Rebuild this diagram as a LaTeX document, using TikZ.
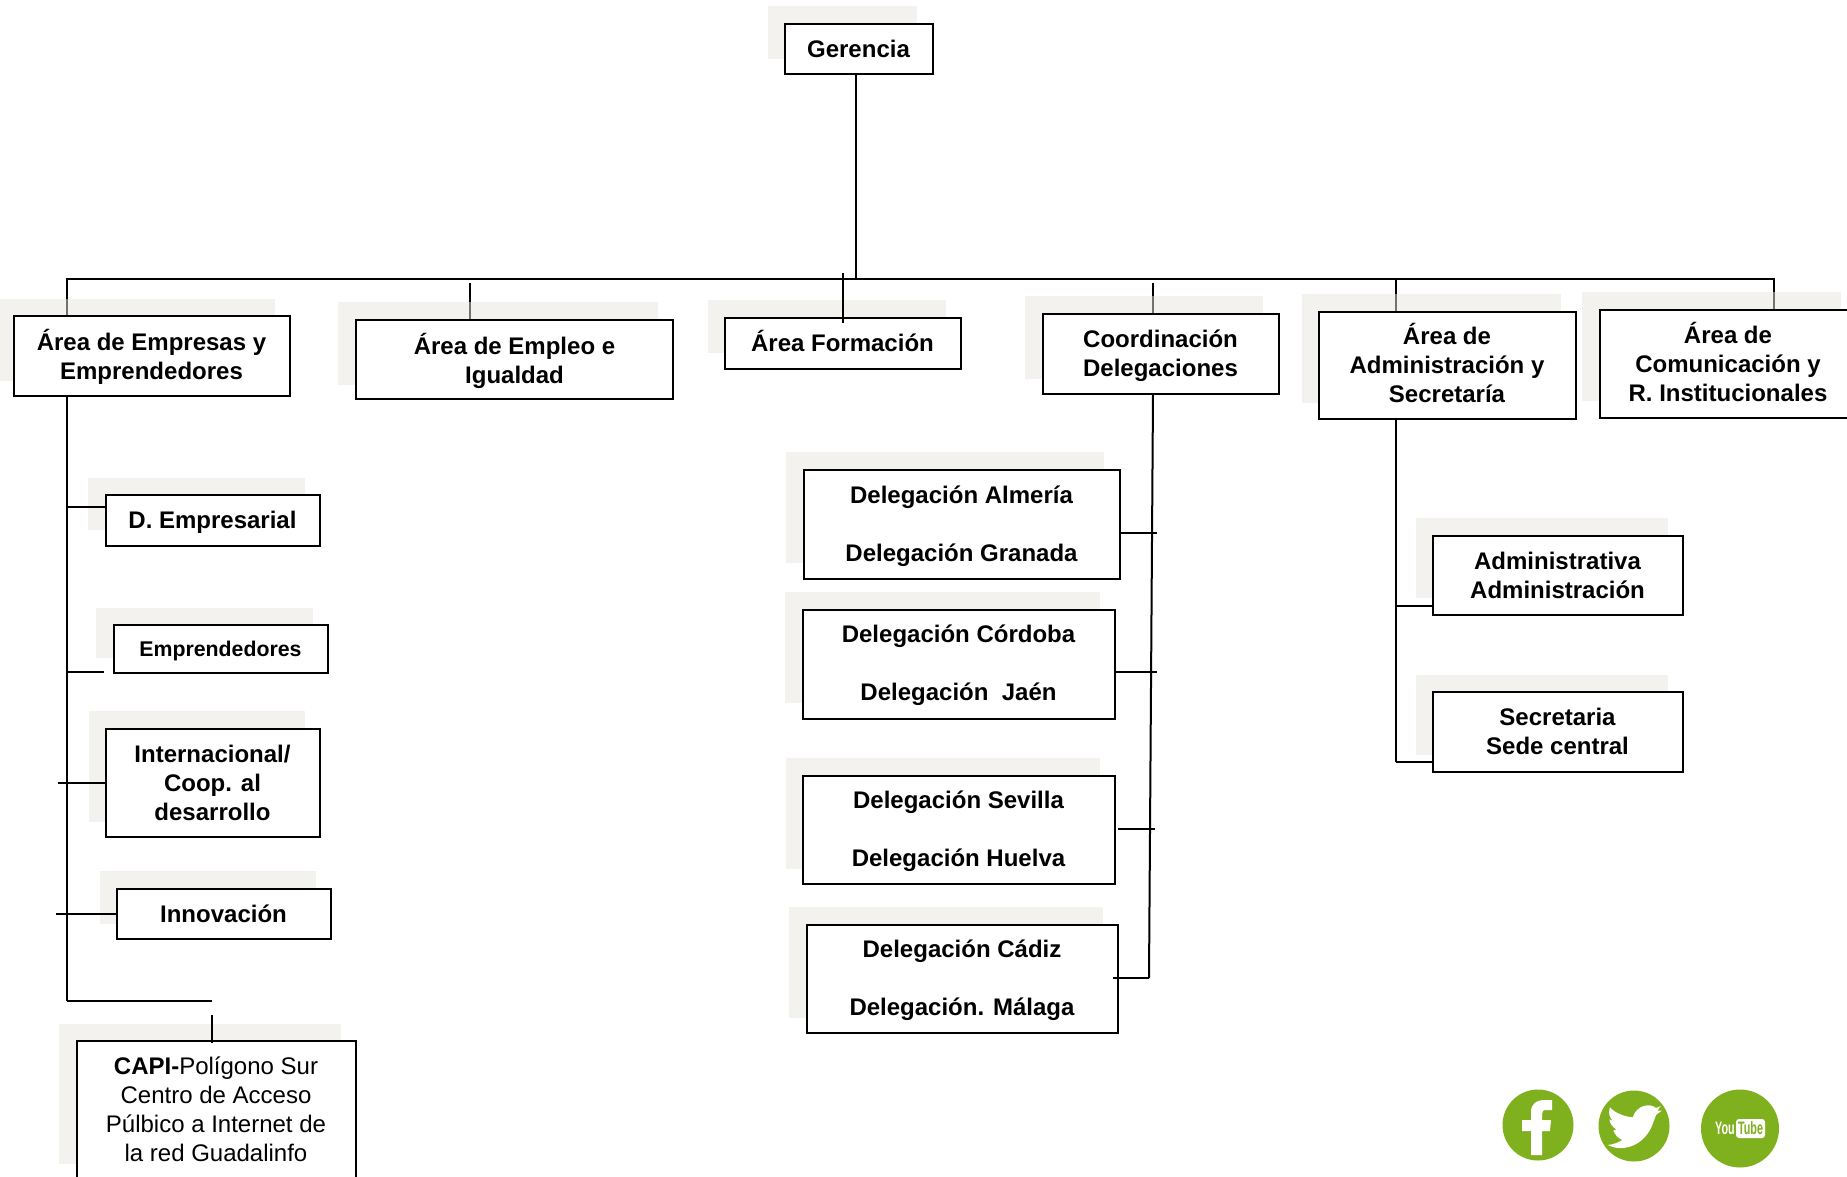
\documentclass[tikz,border=0pt]{standalone}
\usepackage{fontspec}
\setmainfont{Liberation Sans}
\definecolor{shadefill}{HTML}{E7E5DD}
\definecolor{socialgreen}{HTML}{7FB11E}
\pgfdeclarelayer{drops}
\pgfdeclarelayer{shades}
\pgfsetlayers{drops,shades,main}
\newcommand{\nudge}[2]{\raisebox{#1}[\height][\depth]{\begin{tabular}{@{}c@{}}#2\end{tabular}}}
\tikzset{
  orgbox/.style={draw=black, fill=white, line width=2pt, inner sep=0pt, outer sep=0pt, align=center, text=black,
    font=\fontsize{24}{29}\selectfont\bfseries},
  backshade/.style={fill=shadefill, fill opacity=.5},
  link/.style={line width=2pt, black},
  busline/.style={line width=2.4pt, black},
  socialicon/.style={circle, fill=socialgreen, inner sep=0pt, outer sep=0pt}
}
\begin{document}
\begin{tikzpicture}[x=1pt,y=-1pt]
    \useasboundingbox (0,0) rectangle (1847,1176);
    \clip (0,0) rectangle (1847,1176);

    % Sombras
    \begin{pgfonlayer}{shades}
    \fill[backshade] (768,6) rectangle (917,59);
    \fill[backshade] (0,299) rectangle (275,381);
    \fill[backshade] (338,302) rectangle (658,385);
    \fill[backshade] (708,300) rectangle (946,353);
    \fill[backshade] (1025,296) rectangle (1263,379);
    \fill[backshade] (1302,294) rectangle (1561,403);
    \fill[backshade] (1582,292) rectangle (1841,401);
    \fill[backshade] (88,478) rectangle (305,530);
    \fill[backshade] (96,608) rectangle (313,658);
    \fill[backshade] (89,711) rectangle (305,822);
    \fill[backshade] (100,871) rectangle (316,924);
    \fill[backshade] (59,1024) rectangle (341,1164);
    \fill[backshade] (786,452) rectangle (1104,563);
    \fill[backshade] (785,592) rectangle (1100,703);
    \fill[backshade] (786,758) rectangle (1100,869);
    \fill[backshade] (789,907) rectangle (1103,1018);
    \fill[backshade] (1416,518) rectangle (1668,598);
    \fill[backshade] (1416,675) rectangle (1668,755);
    \end{pgfonlayer}

    % Cajas
    \node (gerencia) at (858.5,48.5) [orgbox, minimum width=148pt, minimum height=50pt] {Gerencia};
    \node (empresas) at (151.5,355.5) [orgbox, minimum width=276pt, minimum height=80pt] {\nudge{-3.4pt}{Área de Empresas y\\Emprendedores}};
    \node (empleo) at (514.5,359) [orgbox, minimum width=317pt, minimum height=79pt] {\nudge{-3.4pt}{Área de Empleo e\\Igualdad}};
    \node (formacion) at (842.5,343) [orgbox, minimum width=236pt, minimum height=51pt] {\nudge{-2.3pt}{Área Formación}};
    \node (coordinacion) at (1160.5,353.5) [orgbox, minimum width=236pt, minimum height=80pt] {\nudge{-3pt}{Coordinación\\Delegaciones}};
    \node (administracion) at (1447,365) [orgbox, minimum width=257pt, minimum height=107pt] {\nudge{-2pt}{Área de\\Administración y\\Secretaría}};
    \node (comunicacion) at (1728,363.5) [orgbox, minimum width=257pt, minimum height=108pt] {\nudge{-2.7pt}{Área de\\Comunicación y\\R. Institucionales}};

    \node (dempresarial) at (212.5,520) [orgbox, minimum width=214pt, minimum height=51pt] {\nudge{-3pt}{D. Empresarial}};
    \node (emprendedores) at (220.5,648.5) [orgbox, minimum width=214pt, minimum height=48pt, font=\fontsize{21.3}{26}\selectfont\bfseries] {\nudge{-3pt}{Emprendedores}};
    \node (internacional) at (212.5,782.5) [orgbox, minimum width=214pt, minimum height=108pt] {Internacional/\\Coop. al\\desarrollo};
    \node (innovacion) at (223.5,913.5) [orgbox, minimum width=214pt, minimum height=50pt] {Innovación};
    \node (capi) at (216,1109.5) [orgbox, minimum width=279pt, minimum height=137pt, font=\fontsize{24}{29}\selectfont] {\textbf{CAPI-}Polígono Sur\\Centro de Acceso\\Púlbico a Internet de\\la red Guadalinfo};

    \node (almeria) at (961.5,524) [orgbox, minimum width=316pt, minimum height=109pt] {\nudge{-2.5pt}{Delegación Almería\\[29pt]Delegación Granada}};
    \node (cordoba) at (958.5,664) [orgbox, minimum width=312pt, minimum height=109pt] {\nudge{-2pt}{Delegación Córdoba\\[29pt]Delegación\ \ Jaén}};
    \node (sevilla) at (958.5,829.5) [orgbox, minimum width=312pt, minimum height=108pt] {\nudge{-2.5pt}{Delegación Sevilla\\[29pt]Delegación Huelva}};
    \node (cadiz) at (962,978.5) [orgbox, minimum width=311pt, minimum height=108pt] {\nudge{-2pt}{Delegación Cádiz\\[29pt]Delegación. Málaga}};

    \node (administrativa) at (1557.5,575) [orgbox, minimum width=250pt, minimum height=79pt] {Administrativa\\Administración};
    \node (secretaria) at (1557.5,731.5) [orgbox, minimum width=250pt, minimum height=80pt] {Secretaria\\Sede central};

    % Puntos libres
    \coordinate (busleft) at (67,279);
    \coordinate (busright) at (1774,279);
    \coordinate (busgerencia) at (856,279);
    \coordinate (topempleo) at (470,283);
    \coordinate (topformacion) at (843,273);
    \coordinate (endformacion) at (843,323);
    \coordinate (topcoordinacion) at (1153,283);
    \coordinate (busadmin) at (1396,279);
    \coordinate (spineleft) at (67,1001);
    \coordinate (spineadmin) at (1396,762);
    \coordinate (spinecoord) at (1149,978);
    \coordinate (topcoordspine) at (1153,394);
    \coordinate (capiline) at (212,1001);
    \coordinate (capistub) at (212,1015);
    \coordinate (capiend) at (212,1043);
    \coordinate (tickdemp) at (105,507);
    \coordinate (tickempren) at (104,672);
    \coordinate (tickinterA) at (58,783);
    \coordinate (tickinnovA) at (56,914);
    \coordinate (tickalmeria) at (1157,533);
    \coordinate (tickcordoba) at (1157,672);
    \coordinate (ticksevA) at (1118,829);
    \coordinate (ticksevB) at (1155,829);
    \coordinate (tickcadiz) at (1113,978);
    \coordinate (tickadmin) at (1432,606);

    % Barra superior
    \draw[link] (busgerencia |- gerencia.south) -- (busgerencia);
    \begin{pgfonlayer}{drops}
    \draw[busline, line cap=rect] (busleft) -- (busright);
    \draw[link] (busleft) -- (busleft |- empresas.north);
    \draw[link] (topempleo) -- (topempleo |- empleo.north);
    \draw[link] (topcoordinacion) -- (topcoordinacion |- coordinacion.north);
    \draw[link] (busadmin) -- (busadmin |- administracion.north);
    \draw[link] (busright) -- (busright |- comunicacion.north);
    \end{pgfonlayer}
    \draw[link] (topformacion) -- (endformacion);

    % Área de Empresas
    \draw[link] (busleft |- empresas.south) -- (spineleft);
    \draw[link] (busleft |- tickdemp) -- (tickdemp);
    \draw[link] (busleft |- tickempren) -- (tickempren);
    \draw[link] (tickinterA) -- (internacional.west |- tickinterA);
    \draw[link] (tickinnovA) -- (innovacion.west |- tickinnovA);
    \draw[link] (spineleft) -- (capiline);
    \draw[link] (capistub) -- (capiend);

    % Delegaciones
    \draw[link] (topcoordspine) -- (spinecoord);
    \draw[link] (almeria.east |- tickalmeria) -- (tickalmeria);
    \draw[link] (cordoba.east |- tickcordoba) -- (tickcordoba);
    \draw[link] (ticksevA) -- (ticksevB);
    \draw[link] (tickcadiz) -- (spinecoord);

    % Administración
    \draw[link] (busadmin |- administracion.south) -- (spineadmin);
    \draw[link] (busadmin |- tickadmin) -- (tickadmin);
    \draw[link] (spineadmin) -- (secretaria.west |- spineadmin);

    % Iconos
    \node (facebook) at (1538,1125) [socialicon, minimum size=71pt] {};
    \node (twitter) at (1634,1126) [socialicon, minimum size=71pt] {};
    \node (youtube) at (1740,1128.5) [socialicon, minimum size=78pt] {};

    \fill[white] (1531,1155) -- (1531,1131) -- (1522,1131) -- (1522,1120) -- (1531,1120) -- (1531,1112)
        .. controls (1531,1104) and (1536,1100) .. (1545,1100) -- (1552,1100) -- (1552,1110) -- (1547,1110)
        .. controls (1543,1110) and (1542,1111) .. (1542,1114) -- (1542,1120) -- (1551,1120) -- (1550,1131)
        -- (1542,1131) -- (1542,1155) -- cycle;

    \begin{scope}[shift={(1570,1090)},x=.3333pt,y=-.3333pt]
    \fill[white] (188,82) .. controls (165,80) and (135,70) .. (120,52)
        .. controls (114,68) and (118,82) .. (128,92) -- (118,88)
        .. controls (120,102) and (128,112) .. (139,118) -- (130,122)
        .. controls (135,135) and (145,145) .. (157,150)
        .. controls (145,158) and (130,163) .. (113,165)
        .. controls (150,185) and (215,175) .. (245,110)
        .. controls (250,95) and (255,85) .. (258,75)
        -- (275,62) -- (262,62) -- (272,48) -- (258,54)
        .. controls (240,38) and (200,45) .. (188,82) -- cycle;
    \end{scope}

    \node (ytyou) at (1725,1128) [inner sep=0pt, text=white, font=\fontsize{18}{20}\selectfont\bfseries] {\scalebox{.6}[1]{You}};
    \node (yttube) at (1750.5,1128.5) [fill=white, rounded corners=3pt, text=socialgreen, inner sep=0pt, minimum width=29pt, minimum height=19pt, font=\fontsize{18}{20}\selectfont\bfseries] {\scalebox{.6}[1]{Tube}};
\end{tikzpicture}
\end{document}
